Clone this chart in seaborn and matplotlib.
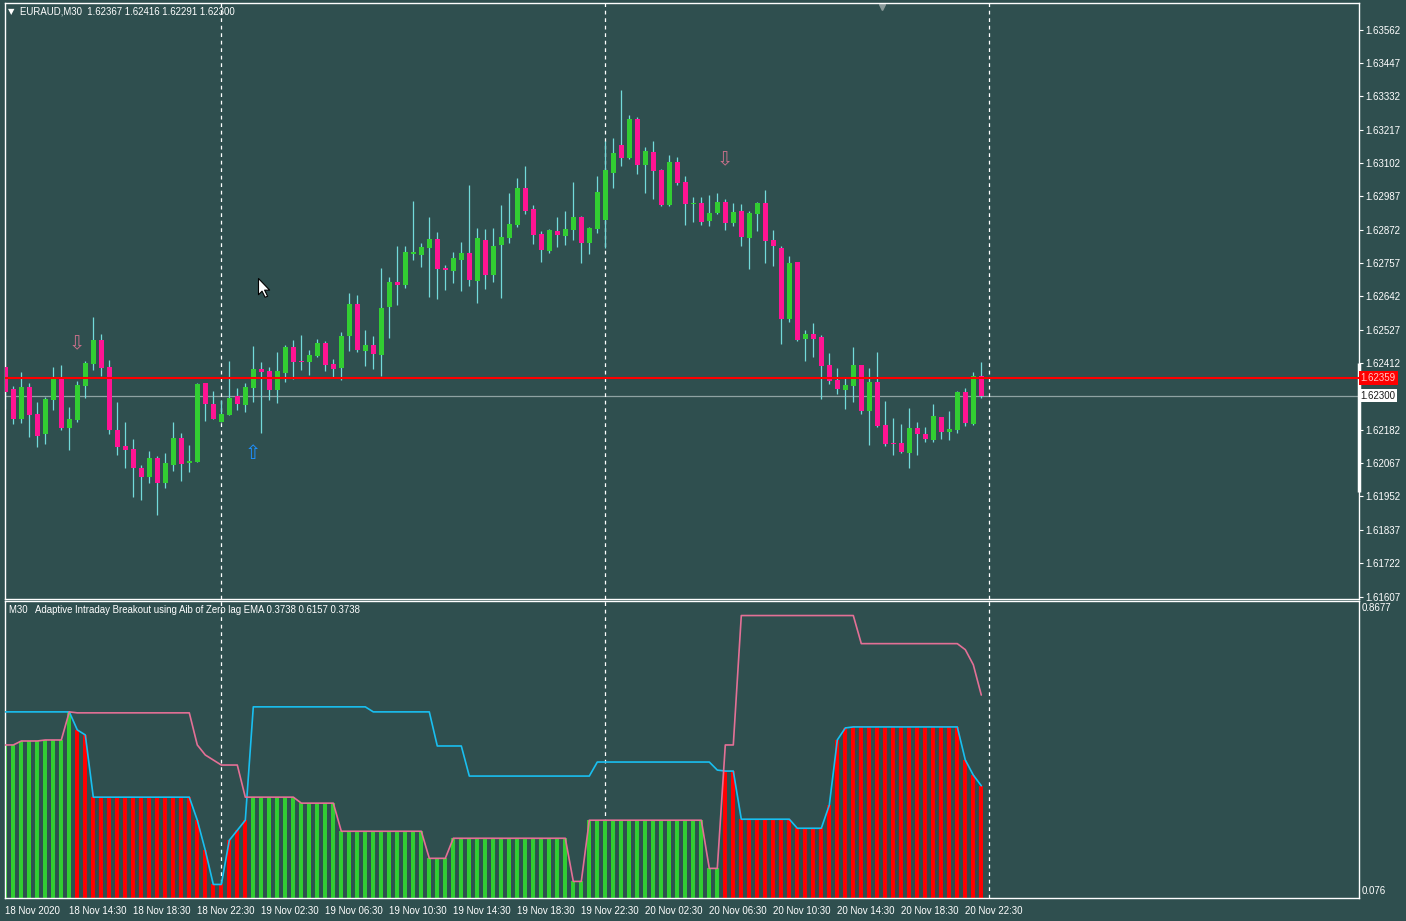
import numpy as np
import pandas as pd
import seaborn as sns
import matplotlib.pyplot as plt
import matplotlib.transforms as mtransforms
from matplotlib.path import Path

# EURAUD M30 candles, 18 Nov 2020 10:30 -> 20 Nov 2020 23:30
opens = [1.62399, 1.62322, 1.62218, 1.62328, 1.62235, 1.62166, 1.62285, 1.62363, 1.62188, 1.62216,
         1.62333, 1.62409, 1.62491, 1.62397, 1.62181, 1.62126, 1.62115, 1.62050, 1.62019, 1.62083,
         1.61998, 1.62060, 1.62152, 1.62067, 1.62071, 1.62342, 1.62270, 1.62209, 1.62233, 1.62297,
         1.62267, 1.62325, 1.62391, 1.62384, 1.62318, 1.62377, 1.62466, 1.62418, 1.62415, 1.62435,
         1.62480, 1.62408, 1.62394, 1.62504, 1.62615, 1.62453, 1.62473, 1.62439, 1.62605, 1.62691,
         1.62680, 1.62789, 1.62784, 1.62808, 1.62839, 1.62739, 1.62729, 1.62767, 1.62791, 1.62694,
         1.62836, 1.62715, 1.62818, 1.62843, 1.62887, 1.63015, 1.62943, 1.62856, 1.62798, 1.62867,
         1.62849, 1.62870, 1.62915, 1.62825, 1.62874, 1.62905, 1.63067, 1.63163, 1.63119, 1.63253,
         1.63094, 1.63139, 1.63077, 1.62956, 1.63105, 1.63036, 1.62960, 1.62963, 1.62901, 1.62929,
         1.62967, 1.62894, 1.62938, 1.62844, 1.62927, 1.62965, 1.62837, 1.62810, 1.62565, 1.62762,
         1.62496, 1.62513, 1.62503, 1.62406, 1.62354, 1.62320, 1.62334, 1.62406, 1.62247, 1.62347,
         1.62199, 1.62137, 1.62137, 1.62102, 1.62189, 1.62168, 1.62147, 1.62227, 1.62175, 1.62182,
         1.62313, 1.62203, 1.62367]
highs = [1.62494, 1.62332, 1.62380, 1.62342, 1.62277, 1.62294, 1.62397, 1.62404, 1.62259, 1.62349,
         1.62418, 1.62570, 1.62511, 1.62422, 1.62277, 1.62208, 1.62149, 1.62059, 1.62108, 1.62091,
         1.62101, 1.62208, 1.62170, 1.62128, 1.62342, 1.62342, 1.62315, 1.62284, 1.62418, 1.62325,
         1.62342, 1.62470, 1.62415, 1.62397, 1.62449, 1.62473, 1.62491, 1.62509, 1.62456, 1.62494,
         1.62487, 1.62425, 1.62518, 1.62653, 1.62646, 1.62525, 1.62504, 1.62739, 1.62708, 1.62815,
         1.62815, 1.62970, 1.62825, 1.62915, 1.62863, 1.62749, 1.62794, 1.62829, 1.63025, 1.62877,
         1.62874, 1.62877, 1.62956, 1.62998, 1.63050, 1.63091, 1.62956, 1.62867, 1.62874, 1.62915,
         1.62936, 1.63036, 1.62918, 1.62880, 1.63056, 1.63177, 1.63188, 1.63353, 1.63267, 1.63260,
         1.63157, 1.63177, 1.63081, 1.63129, 1.63122, 1.63056, 1.62984, 1.62984, 1.62991, 1.62998,
         1.62977, 1.62963, 1.62962, 1.62938, 1.62969, 1.63010, 1.62872, 1.62817, 1.62782, 1.62762,
         1.62527, 1.62551, 1.62510, 1.62448, 1.62396, 1.62365, 1.62468, 1.62406, 1.62396, 1.62451,
         1.62282, 1.62223, 1.62203, 1.62258, 1.62209, 1.62192, 1.62272, 1.62227, 1.62247, 1.62316,
         1.62327, 1.62382, 1.62416]
lows = [1.62253, 1.62201, 1.62205, 1.62157, 1.62123, 1.62133, 1.62250, 1.62181, 1.62112, 1.62209,
        1.62292, 1.62388, 1.62368, 1.62167, 1.62095, 1.62050, 1.61950, 1.61940, 1.61998, 1.61888,
        1.61981, 1.62040, 1.62005, 1.62036, 1.62071, 1.62212, 1.62219, 1.62209, 1.62233, 1.62250,
        1.62243, 1.62278, 1.62170, 1.62285, 1.62274, 1.62346, 1.62356, 1.62387, 1.62370, 1.62432,
        1.62384, 1.62360, 1.62353, 1.62453, 1.62449, 1.62401, 1.62391, 1.62366, 1.62498, 1.62611,
        1.62670, 1.62767, 1.62743, 1.62639, 1.62632, 1.62663, 1.62687, 1.62660, 1.62677, 1.62618,
        1.62667, 1.62691, 1.62636, 1.62825, 1.62880, 1.62925, 1.62822, 1.62760, 1.62791, 1.62811,
        1.62818, 1.62836, 1.62756, 1.62787, 1.62860, 1.62808, 1.63015, 1.63091, 1.63115, 1.63063,
        1.62998, 1.62977, 1.62953, 1.62953, 1.63025, 1.62887, 1.62898, 1.62887, 1.62884, 1.62925,
        1.62870, 1.62884, 1.62817, 1.62737, 1.62869, 1.62758, 1.62748, 1.62479, 1.62555, 1.62489,
        1.62420, 1.62434, 1.62289, 1.62341, 1.62306, 1.62254, 1.62278, 1.62237, 1.62130, 1.62192,
        1.62127, 1.62096, 1.62102, 1.62051, 1.62096, 1.62140, 1.62140, 1.62151, 1.62147, 1.62172,
        1.62196, 1.62199, 1.62291]
closes = [1.62312, 1.62218, 1.62328, 1.62232, 1.62161, 1.62287, 1.62363, 1.62188, 1.62218, 1.62335,
          1.62411, 1.62491, 1.62395, 1.62181, 1.62123, 1.62112, 1.62050, 1.62019, 1.62083, 1.61998,
          1.62066, 1.62152, 1.62064, 1.62073, 1.62339, 1.62271, 1.62219, 1.62235, 1.62290, 1.62271,
          1.62328, 1.62391, 1.62381, 1.62318, 1.62384, 1.62466, 1.62416, 1.62415, 1.62439, 1.62480,
          1.62404, 1.62391, 1.62504, 1.62615, 1.62456, 1.62473, 1.62442, 1.62601, 1.62691, 1.62680,
          1.62794, 1.62794, 1.62812, 1.62839, 1.62736, 1.62732, 1.62774, 1.62791, 1.62698, 1.62843,
          1.62715, 1.62815, 1.62846, 1.62891, 1.63015, 1.62936, 1.62853, 1.62801, 1.62870, 1.62853,
          1.62874, 1.62915, 1.62825, 1.62877, 1.63001, 1.63077, 1.63136, 1.63119, 1.63253, 1.63094,
          1.63143, 1.63074, 1.62956, 1.63105, 1.63032, 1.62960, 1.62963, 1.62898, 1.62929, 1.62967,
          1.62894, 1.62932, 1.62848, 1.62931, 1.62965, 1.62834, 1.62817, 1.62565, 1.62758, 1.62492,
          1.62513, 1.62496, 1.62403, 1.62351, 1.62323, 1.62337, 1.62406, 1.62247, 1.62347, 1.62196,
          1.62134, 1.62134, 1.62106, 1.62189, 1.62168, 1.62151, 1.62230, 1.62175, 1.62185, 1.62313,
          1.62206, 1.62368, 1.62300]

# Adaptive Intraday Breakout (AIB of zero lag EMA) sub-window
aib_blue = [0.5708, 0.5708, 0.5708, 0.5708, 0.5708, 0.5708, 0.5708, 0.5708, 0.5708, 0.5227,
            0.5093, 0.3435, 0.3435, 0.3435, 0.3435, 0.3435, 0.3435, 0.3435, 0.3435, 0.3435,
            0.3435, 0.3435, 0.3435, 0.3435, 0.2820, 0.2017, 0.1108, 0.1108, 0.2285, 0.2552,
            0.2820, 0.5842, 0.5842, 0.5842, 0.5842, 0.5842, 0.5842, 0.5842, 0.5842, 0.5842,
            0.5842, 0.5842, 0.5842, 0.5842, 0.5842, 0.5842, 0.5708, 0.5708, 0.5708, 0.5708,
            0.5708, 0.5708, 0.5708, 0.5708, 0.4799, 0.4799, 0.4799, 0.4799, 0.3997, 0.3997,
            0.3997, 0.3997, 0.3997, 0.3997, 0.3997, 0.3997, 0.3997, 0.3997, 0.3997, 0.3997,
            0.3997, 0.3997, 0.3997, 0.3997, 0.4371, 0.4371, 0.4371, 0.4371, 0.4371, 0.4371,
            0.4371, 0.4371, 0.4371, 0.4371, 0.4371, 0.4371, 0.4371, 0.4371, 0.4371, 0.4157,
            0.4130, 0.4130, 0.2847, 0.2847, 0.2847, 0.2847, 0.2847, 0.2847, 0.2847, 0.2606,
            0.2606, 0.2606, 0.2606, 0.3221, 0.4959, 0.5280, 0.5307, 0.5307, 0.5307, 0.5307,
            0.5307, 0.5307, 0.5307, 0.5307, 0.5307, 0.5307, 0.5307, 0.5307, 0.5307, 0.5307,
            0.4425, 0.4023, 0.3738]
aib_pink = [0.4826, 0.4826, 0.4932, 0.4932, 0.4932, 0.4959, 0.4959, 0.4959, 0.5708, 0.5682,
            0.5682, 0.5682, 0.5682, 0.5682, 0.5682, 0.5682, 0.5682, 0.5682, 0.5682, 0.5682,
            0.5682, 0.5682, 0.5682, 0.5682, 0.4826, 0.4559, 0.4425, 0.4291, 0.4291, 0.4291,
            0.3435, 0.3435, 0.3435, 0.3435, 0.3435, 0.3435, 0.3435, 0.3275, 0.3275, 0.3275,
            0.3275, 0.3275, 0.2526, 0.2526, 0.2526, 0.2526, 0.2526, 0.2526, 0.2526, 0.2526,
            0.2526, 0.2526, 0.2526, 0.1804, 0.1804, 0.1804, 0.2339, 0.2339, 0.2339, 0.2339,
            0.2339, 0.2339, 0.2339, 0.2339, 0.2339, 0.2339, 0.2339, 0.2339, 0.2339, 0.2339,
            0.2339, 0.1189, 0.1189, 0.2820, 0.2820, 0.2820, 0.2820, 0.2820, 0.2820, 0.2820,
            0.2820, 0.2820, 0.2820, 0.2820, 0.2820, 0.2820, 0.2820, 0.2820, 0.1536, 0.1536,
            0.4826, 0.4826, 0.8276, 0.8276, 0.8276, 0.8276, 0.8276, 0.8276, 0.8276, 0.8276,
            0.8276, 0.8276, 0.8276, 0.8276, 0.8276, 0.8276, 0.8276, 0.7527, 0.7527, 0.7527,
            0.7527, 0.7527, 0.7527, 0.7527, 0.7527, 0.7527, 0.7527, 0.7527, 0.7527, 0.7527,
            0.7366, 0.6965, 0.6157]
# G = up histogram (green), R = down histogram (red)
aib_trend = list("GGGGGGGGG" "RRRRRRRRRRRRRRRRRRRRRR"
                 "GGGGGGGGGGGGGGGGGGGGGGGGGGGGGGGGGGGGGGGGGGGGGGGGGGGGGGGGGGG"
                 "RRRRRRRRRRRRRRRRRRRRRRRRRRRRRRRRR")

# signal arrows (bar index, price, direction)
arrow_bar = [9, 31, 90]
arrow_price = [1.62480, 1.62101, 1.63112]
arrow_dir = ['down', 'up', 'down']

price_ticks = [1.63562, 1.63447, 1.63332, 1.63217, 1.63102, 1.62987, 1.62872, 1.62757, 1.62642,
               1.62527, 1.62412, 1.62182, 1.62067, 1.61952, 1.61837, 1.61722, 1.61607]
time_tick_bars = [0, 8, 16, 24, 32, 40, 48, 56, 64, 72, 80, 88, 96, 104, 112, 120]
day_separators = [27, 75, 123]
line_level = 1.62359
bid = 1.62300

BG = '#2F4F4F'
BULL = '#32CD32'
BEAR = '#FF1493'
WICK = '#72DADA'

sns.set_style('dark', {'axes.facecolor': BG, 'figure.facecolor': BG, 'axes.edgecolor': 'white',
                       'text.color': 'white', 'xtick.color': 'white', 'ytick.color': 'white',
                       'axes.grid': False})
plt.rcParams['font.family'] = ['Liberation Sans', 'DejaVu Sans']

df = pd.DataFrame({'open': opens, 'high': highs, 'low': lows, 'close': closes})
df['bar'] = np.arange(len(df))
df['time'] = pd.date_range('2020-11-18 10:30', periods=len(df), freq='30min')
df['up'] = df['close'] >= df['open']

ind = pd.DataFrame({'bar': df['bar'], 'blue': aib_blue, 'pink': aib_pink, 'trend': aib_trend})
ind['hist'] = np.where(ind['trend'] == 'G', ind['pink'], ind['blue'])

W, H = 1406, 921
fig = plt.figure(figsize=(W / 100, H / 100), dpi=100)


def box(x0, y0, x1, y1):
    return [x0 / W, 1 - y1 / H, (x1 - x0) / W, (y1 - y0) / H]


ax = fig.add_axes(box(4.5, 3, 1358.5, 598.5))
axi = fig.add_axes(box(4.5, 600.5, 1358.5, 897.5))
for a in (ax, axi):
    a.set_xlim(-0.1, 169.15)
    for s in a.spines.values():
        s.set_color('white')
        s.set_linewidth(1)

# candles
ax.vlines(df['bar'], df['low'], df['high'], color=WICK, lw=0.9, zorder=2)
body_lo = np.minimum(df['open'], df['close'])
body_h = np.maximum((df['close'] - df['open']).abs(), 0.000035)
ax.bar(df['bar'], body_h, bottom=body_lo, width=0.62,
       color=np.where(df['up'], BULL, BEAR), linewidth=0, zorder=3)
ax.set_ylim(1.616003, 1.636534)

ax.axhline(line_level, color='#FF0000', lw=1.5, zorder=4)
ax.axhline(bid, color='#8FA3A3', lw=0.9, zorder=1)
for d in day_separators:
    ax.axvline(d, color='white', lw=0.9, ls=(0, (3, 3)), zorder=1)
    axi.axvline(d, color='white', lw=0.9, ls=(0, (3, 3)), zorder=1)

for b, p, d in zip(arrow_bar, arrow_price, arrow_dir):
    ax.text(b, p, '⇩' if d == 'down' else '⇧', ha='center', va='center', fontsize=14,
            family=['DejaVu Sans'], color='#C8708A' if d == 'down' else '#1E90FF', zorder=5)

# mouse pointer left on the screenshot
cursor = Path([(0, 0), (0, -16), (3.5, -12.5), (6.5, -18.5), (9, -17.5), (6, -11.5),
               (11, -11.5), (0, 0)],
              [Path.MOVETO] + [Path.LINETO] * 6 + [Path.CLOSEPOLY])
ax.plot([31.6], [1.62705], marker=cursor, ms=27, mfc='white', mec='black', mew=0.8, zorder=6)

ax.yaxis.tick_right()
ax.set_yticks(price_ticks)
ax.set_yticklabels([f'{p:.5f}' for p in price_ticks])
ax.tick_params(axis='y', colors='white', length=3, width=0.8, pad=2, labelsize=7, direction='out')
ax.tick_params(axis='x', bottom=False, labelbottom=False)

tr = mtransforms.blended_transform_factory(ax.transAxes, ax.transData)
ax.text(1.0015, line_level, f'{line_level:.5f}', transform=tr, ha='left', va='center', fontsize=7,
        color='#FFC8C8', bbox=dict(boxstyle='square,pad=0.2', fc='#FF0000', ec='none'))
ax.text(1.0015, bid, f'{bid:.5f}', transform=tr, ha='left', va='center', fontsize=7,
        color='#1A1A1A', bbox=dict(boxstyle='square,pad=0.2', fc='white', ec='none'))
ax.plot([1.0, 1.0], [0.179, 0.396], transform=ax.transAxes, color='white', lw=2.5,
        clip_on=False, solid_capstyle='butt')
ax.plot([(882 - 4.5) / 1354], [0.993], marker='v', ms=5, color='#8A9A9A',
        transform=ax.transAxes, clip_on=False)

# indicator
axi.bar(ind['bar'], ind['hist'], width=0.5,
        color=np.where(ind['trend'] == 'G', '#32CD32', '#FF0000'), linewidth=0, zorder=2)
sns.lineplot(data=ind, x='bar', y='blue', ax=axi, color='#19BFF0', lw=1.2, zorder=3)
sns.lineplot(data=ind, x='bar', y='pink', ax=axi, color='#E37096', lw=1.2, zorder=3)
axi.set_ylim(0.076, 0.8677)
axi.set_ylabel('')
axi.set_xlabel('')
axi.set_yticks([])
axi.set_xticks(time_tick_bars)
labels = ['18 Nov 2020'] + [df['time'][b].strftime('%d %b %H:%M') for b in time_tick_bars[1:]]
axi.set_xticklabels(labels, ha='left')
axi.tick_params(axis='x', colors='white', length=4, width=0.8, pad=2, labelsize=7, direction='out')

fig.text(1362 / W, 1 - 608 / H, '0.8677', fontsize=7, color='white', va='center')
fig.text(1362 / W, 1 - 891 / H, '0.076', fontsize=7, color='white', va='center')
fig.text(8 / W, 1 - 12 / H, '▼', fontsize=6, color='white', va='center', family=['DejaVu Sans'])
fig.text(20 / W, 1 - 12 / H, 'EURAUD,M30  1.62367 1.62416 1.62291 1.62300', fontsize=6.9,
         color='white', va='center')
fig.text(9 / W, 1 - 610 / H,
         'M30   Adaptive Intraday Breakout using Aib of Zero lag EMA 0.3738 0.6157 0.3738',
         fontsize=6.9, color='white', va='center')

fig.savefig('out.png', dpi=100, facecolor=BG)
